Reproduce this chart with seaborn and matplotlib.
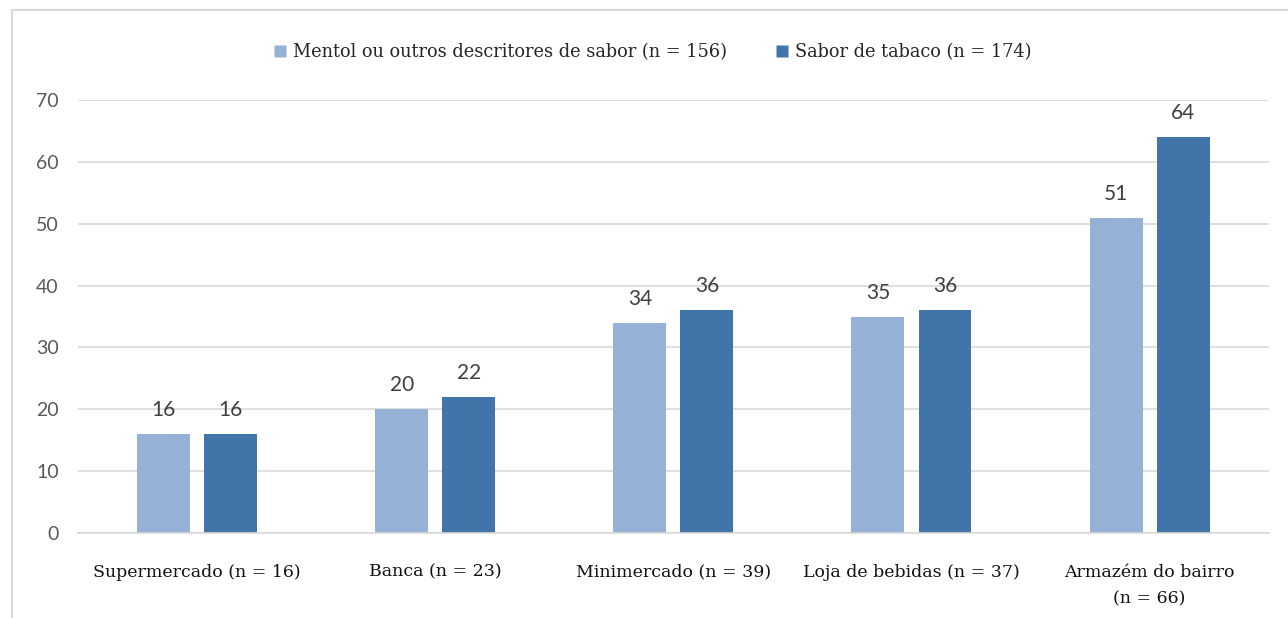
import matplotlib
matplotlib.use("Agg")
import matplotlib.pyplot as plt
import seaborn as sns
import pandas as pd
from matplotlib.lines import Line2D

categories = ["Supermercado (n = 16)", "Banca (n = 23)", "Minimercado (n = 39)",
              "Loja de bebidas (n = 37)", "Armazém do bairro\n(n = 66)"]
series_names = ["Mentol ou outros descritores de sabor (n = 156)", "Sabor de tabaco (n = 174)"]
mentol = [16, 20, 34, 35, 51]
tabaco = [16, 22, 36, 36, 64]
colors = ["#95B1D5", "#4174A8"]

df = pd.DataFrame({
    "cat": categories * 2,
    "val": mentol + tabaco,
    "series": [series_names[0]] * len(categories) + [series_names[1]] * len(categories),
})

sns.set_theme(style="white")
plt.rcParams["font.family"] = ["DejaVu Sans"]

fig = plt.figure(figsize=(12.88, 6.18), dpi=100)
ax = fig.add_axes([0.0606, 0.1375, 0.9244, 0.7006])

sns.barplot(data=df, x="cat", y="val", hue="series", palette=colors,
            order=categories, hue_order=series_names,
            width=0.563, gap=0.21, ax=ax, legend=False, saturation=1,
            edgecolor="none")

ax.set_xlim(-0.5, len(categories) - 0.5)
ax.set_ylim(0, 70)
ax.set_yticks(range(0, 71, 10))
ax.yaxis.grid(True, color="#D9D9D9", linewidth=1.2)
ax.set_axisbelow(True)
for s in ["top", "right", "left"]:
    ax.spines[s].set_visible(False)
ax.spines["bottom"].set_color("#D9D9D9")
ax.spines["bottom"].set_linewidth(1.2)
ax.set_xlabel("")
ax.set_ylabel("")
ax.tick_params(axis="y", length=0, pad=14, labelsize=14, labelcolor="#595959")
ax.tick_params(axis="x", length=0, pad=22)
for lab in ax.get_yticklabels():
    lab.set_family("Lato")
for lab in ax.get_xticklabels():
    lab.set_family("DejaVu Serif")
    lab.set_fontsize(12.5)
    lab.set_color("#111111")
    lab.set_linespacing(1.75)

for cont in ax.containers:
    ax.bar_label(cont, fmt="%d", padding=10, fontsize=15, color="#404040", family="Lato")

handles = [Line2D([0], [0], marker="s", linestyle="none", markersize=9,
                  markerfacecolor=c, markeredgecolor="none") for c in colors]
fig.legend(handles, series_names, loc="center", bbox_to_anchor=(0.506, 0.916),
           ncol=2, frameon=False, prop={"family": "DejaVu Serif", "size": 12.8},
           handletextpad=0.3, columnspacing=2.6, handlelength=0.9)

fig.add_artist(Line2D([12 / 1288, 12 / 1288], [0, 1 - 10 / 618], color="#D9D9D9", linewidth=1.5))
fig.add_artist(Line2D([12 / 1288, 1], [1 - 10 / 618, 1 - 10 / 618], color="#D9D9D9", linewidth=1.5))

fig.savefig("out.png", dpi=100)
